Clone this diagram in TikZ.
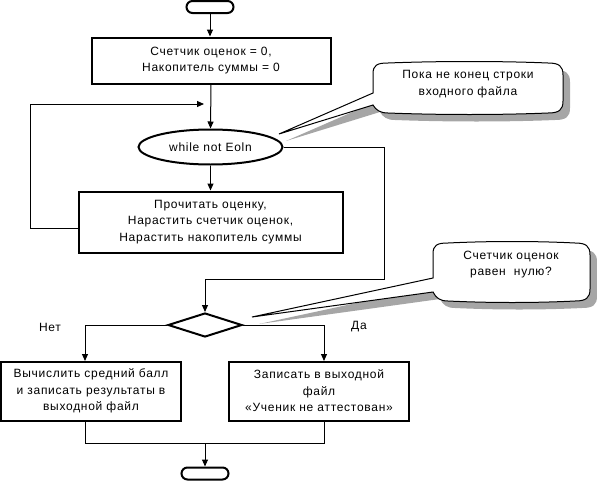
\documentclass[tikz,border=0pt]{standalone}
\usepackage{fontspec}
\setmainfont{Liberation Sans}[LetterSpace=6]
\usetikzlibrary{shapes.geometric,arrows.meta}
\begin{document}
\begin{tikzpicture}[x=1pt,y=-1pt,
  font=\fontsize{12}{16.5}\selectfont,
  proc/.style={draw,rectangle,line width=2pt,align=center,inner sep=0pt},
  term/.style={draw,rectangle,rounded corners=6pt,line width=2pt,minimum width=47pt,minimum height=12pt,inner sep=0pt},
  ell/.style={draw,ellipse,line width=2pt,inner sep=0pt,minimum width=144pt,minimum height=35pt},
  dia/.style={draw,diamond,line width=2pt,inner sep=0pt,minimum width=74pt,minimum height=24pt},
  conn/.style={line width=1pt},
  arr/.style={conn,-{Triangle[length=7pt,width=6pt]}},
  callshape/.style={draw,line width=1pt,fill=white},
  callshadow/.style={fill=black!35},
  txt/.style={align=center,inner sep=0pt}
]
\useasboundingbox (0,0) rectangle (597,482);

% callout shadows
\path[callshadow,shift={(7,7)}] (373,93) -- (373,74) .. controls (373,65) and (377,63) .. (388,63)
 .. controls (440,61) and (500,61) .. (548,63)
 .. controls (559,63) and (563,66) .. (563,75)
 -- (563,101) .. controls (563,110) and (559,113) .. (548,113)
 .. controls (500,115) and (440,115) .. (388,113)
 .. controls (380,113) and (376,110) .. (373,105) -- (279,134) -- cycle;
\path[callshadow,shift={(7,7)}] (433,278) -- (433,254) .. controls (433,245) and (437,243) .. (448,243)
 .. controls (490,241) and (535,241) .. (575,243)
 .. controls (586,243) and (590,246) .. (590,255)
 -- (590,289) .. controls (590,298) and (586,301) .. (575,301)
 .. controls (535,303) and (490,303) .. (448,301)
 .. controls (440,301) and (436,298) .. (433,292) -- (252,317) -- cycle;

% main nodes
\node[term] (t1) at (210,7) {};
\node[proc,minimum width=239pt,minimum height=46pt] (b1) at (211,60.5) {Счетчик оценок = 0,\\Накопитель суммы = 0};
\node[ell] (e) at (210.5,147) {while not Eoln};
\node[proc,minimum width=264pt,minimum height=61pt] (b2) at (210.5,222) {Прочитать оценку,\\Нарастить счетчик оценок,\\Нарастить накопитель суммы};
\node[dia] (d) at (205,325) {};
\node[proc,minimum width=180pt,minimum height=59pt] (b3) at (91,391) {Вычислить средний балл\\и записать результаты в\\выходной файл};
\node[proc,minimum width=180pt,minimum height=59pt] (b4) at (319,391) {Записать в выходной\\файл\\«Ученик не аттестован»};
\node[term] (t2) at (205,473.5) {};

\node[txt] (no) at (50,327) {Нет};
\node[txt] (yes) at (359,327) {Да};

% connectors
\draw[arr] (t1.south) -- (t1.south |- b1.north);
\draw[arr] (b1.south) -- (e.north);
\coordinate (l1) at (30,228);
\coordinate (lpend) at (204,104);
\draw[arr] (b2.west |- l1) -- (l1) -- (l1 |- lpend) -- (lpend);
\draw[arr] (e.south) -- (b2.north);
\coordinate (r1) at (384,279);
\draw[arr] (e.east) -- (e.east -| r1) -- (r1) -- (r1 -| d.north) -- (d.north);
\coordinate (nL) at (85,361);
\coordinate (nR) at (324,361);
\draw[arr] (d.west) -- (d.west -| nL) -- (nL);
\draw[arr] (d.east) -- (d.east -| nR) -- (nR);
\coordinate (m) at (205,443);
\draw[conn] (nL |- b3.south) -- (nL |- m) -- (nR |- m) -- (nR |- b4.south);
\draw[arr] (m) -- (t2.north);

% callouts
\path[callshape] (373,93) -- (373,74) .. controls (373,65) and (377,63) .. (388,63)
 .. controls (440,61) and (500,61) .. (548,63)
 .. controls (559,63) and (563,66) .. (563,75)
 -- (563,101) .. controls (563,110) and (559,113) .. (548,113)
 .. controls (500,115) and (440,115) .. (388,113)
 .. controls (380,113) and (376,110) .. (373,105) -- (279,134) -- cycle;
\node[txt] (c1) at (468,84) {Пока не конец строки\\входного файла};
\path[callshape] (433,278) -- (433,254) .. controls (433,245) and (437,243) .. (448,243)
 .. controls (490,241) and (535,241) .. (575,243)
 .. controls (586,243) and (590,246) .. (590,255)
 -- (590,289) .. controls (590,298) and (586,301) .. (575,301)
 .. controls (535,303) and (490,303) .. (448,301)
 .. controls (440,301) and (436,298) .. (433,292) -- (252,317) -- cycle;
\node[txt] (c2) at (511,264.5) {Счетчик оценок\\равен\ \ нулю?};
\end{tikzpicture}
\end{document}
